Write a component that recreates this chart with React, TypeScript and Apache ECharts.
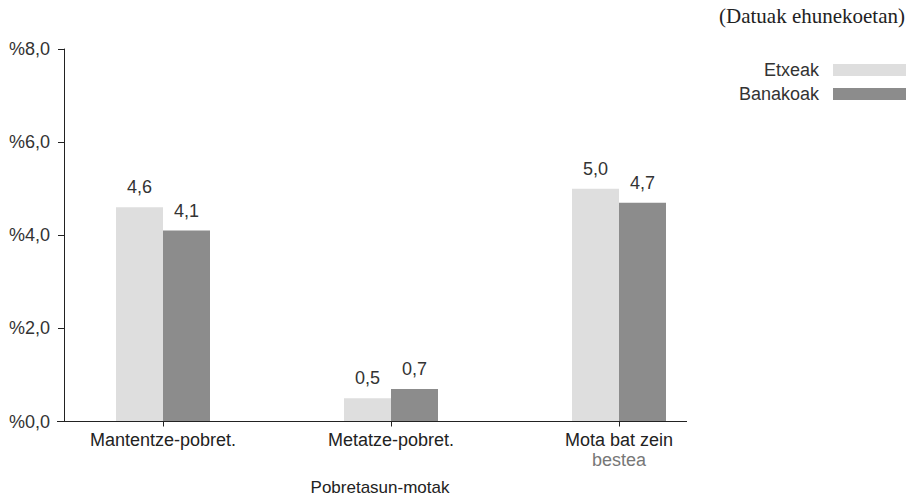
import React, { useEffect, useRef } from "react";
import * as echarts from "echarts";

const categories = ["Mantentze-pobret.", "Metatze-pobret.", "Mota bat zein\nbestea"];
const seriesNames = ["Etxeak", "Banakoak"];
const etxeak = [4.6, 0.5, 5.0];
const banakoak = [4.1, 0.7, 4.7];
const yMin = 0;
const yMax = 8;
const yInterval = 2;
const unitNote = "(Datuak ehunekoetan)";
const xAxisTitle = "Pobretasun-motak";

const FONT = "'Liberation Sans', Arial, Helvetica, sans-serif";
const fmt = (v: number) => v.toFixed(1).replace(".", ",");

export default function App() {
  const ref = useRef<HTMLDivElement>(null);
  useEffect(() => {
    if (!ref.current) return;
    const chart = echarts.init(ref.current, null, { renderer: "svg" });
    chart.setOption({
      animation: false,
      backgroundColor: "#ffffff",
      textStyle: { fontFamily: FONT },
      grid: { left: 49, right: 179, top: 49, bottom: 76.5, containLabel: false },
      legend: {
        data: seriesNames,
        orient: "vertical",
        right: 1,
        top: 56,
        align: "right",
        icon: "rect",
        itemWidth: 73,
        itemHeight: 12,
        itemGap: 6,
        textStyle: { fontSize: 18, color: "#333", fontFamily: FONT, padding: [0, 9, 0, 0] },
      },
      xAxis: {
        type: "category",
        data: categories,
        axisLine: { show: false },
        axisTick: { show: true, alignWithLabel: true, length: 5, lineStyle: { color: "#222" } },
        axisLabel: {
          margin: 8,
          interval: 0,
          formatter: (v: string) => {
            const parts = v.split("\n");
            return parts.map((p, i) => (i === 0 ? `{a|${p}}` : `{b|${p}}`)).join("\n");
          },
          rich: {
            a: { fontSize: 18, color: "#222", fontFamily: FONT, lineHeight: 20 },
            b: { fontSize: 18, color: "#777", fontFamily: FONT, lineHeight: 20 },
          },
        },
      },
      yAxis: {
        type: "value",
        min: yMin,
        max: yMax,
        interval: yInterval,
        offset: -15,
        axisLine: { show: true, lineStyle: { color: "#222" } },
        axisTick: { show: true, length: 6, lineStyle: { color: "#222" } },
        splitLine: { show: false },
        axisLabel: { margin: 14, fontSize: 18, color: "#333", fontFamily: FONT, formatter: (v: number) => "%" + fmt(v) },
      },
      series: [
        {
          name: seriesNames[0],
          type: "bar",
          data: etxeak,
          barWidth: 47,
          barGap: "0%",
          itemStyle: { color: "#dedede" },
          label: { show: true, position: "top", distance: 11, fontSize: 18, color: "#333", fontFamily: FONT, formatter: (p: any) => fmt(p.value) },
        },
        {
          name: seriesNames[1],
          type: "bar",
          data: banakoak,
          barWidth: 47,
          barGap: "0%",
          itemStyle: { color: "#8c8c8c" },
          label: { show: true, position: "top", distance: 11, fontSize: 18, color: "#333", fontFamily: FONT, formatter: (p: any) => fmt(p.value) },
        },
      ],
      graphic: [
        {
          type: "line",
          shape: { x1: 57, y1: 421.5, x2: 687, y2: 421.5 },
          style: { stroke: "#222", lineWidth: 1 },
          z: 10,
        },
        {
          type: "text",
          right: 7,
          top: 5,
          style: { text: unitNote, fontSize: 21, fill: "#222", fontFamily: "'Liberation Serif', 'Times New Roman', serif" },
        },
        {
          type: "text",
          x: 380,
          y: 487,
          style: { text: xAxisTitle, fontSize: 17, fill: "#222", fontFamily: FONT, align: "center", verticalAlign: "middle" },
        },
      ],
    });
    return () => chart.dispose();
  }, []);
  return <div ref={ref} style={{ position: "absolute", left: 0, top: 0, width: 912, height: 498 }} />;
}
